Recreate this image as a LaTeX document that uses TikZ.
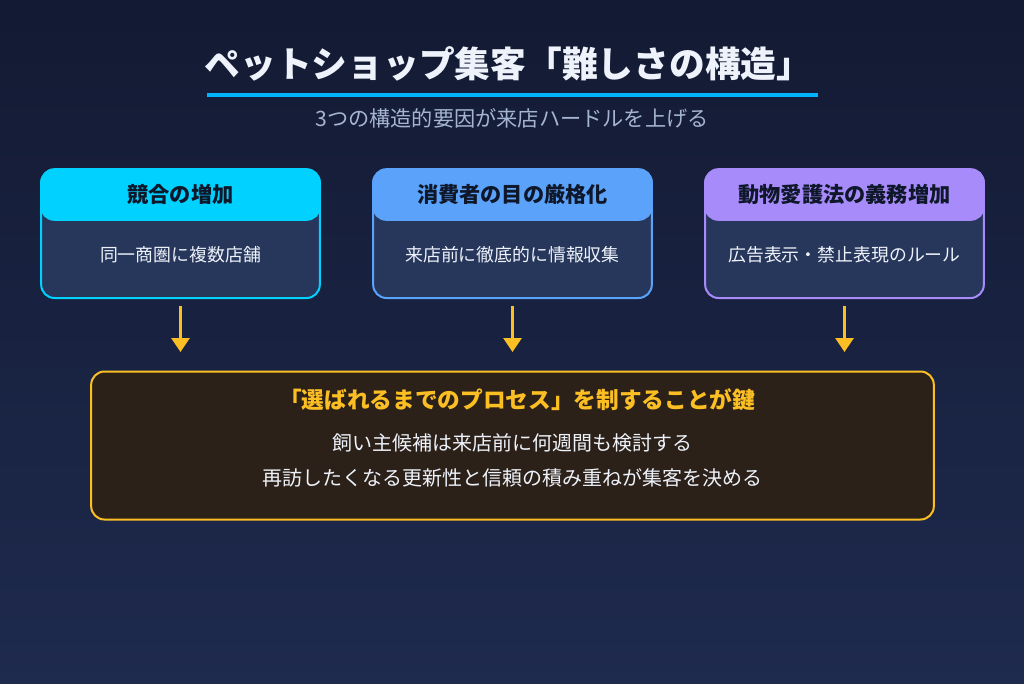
\documentclass[tikz,border=0pt]{standalone}
\usepackage{fontspec}
\setmainfont{Noto Sans CJK JP}
\usetikzlibrary{positioning,arrows.meta}
\definecolor{bgtop}{HTML}{131A33}
\definecolor{bgbot}{HTML}{1E2A4E}
\definecolor{cardbg}{HTML}{27375C}
\definecolor{inkdark}{HTML}{0F172A}
\definecolor{hcyan}{HTML}{00D1FF}
\definecolor{hblue}{HTML}{5BA3FA}
\definecolor{hpurple}{HTML}{A88BFA}
\definecolor{gold}{HTML}{FBBF24}
\definecolor{keybg}{HTML}{2C2119}
\definecolor{subgray}{HTML}{A5B4D0}
\definecolor{softwhite}{HTML}{EEF2FA}

\begin{document}
\begin{tikzpicture}[x=0.75pt, y=-0.75pt,
  card/.style={draw, line width=1.5pt, rounded corners=10pt, fill=cardbg,
               minimum width=209pt, minimum height=96pt, inner sep=0pt},
  head/.style={draw, line width=1.5pt, rounded corners=10pt,
               minimum width=209pt, minimum height=38pt, inner sep=0pt,
               font=\bfseries\fontsize{15.9}{19}\selectfont, text=inkdark},
  body/.style={font=\fontsize{13.4}{16}\selectfont, text=softwhite},
  arr/.style={-{Triangle[width=13.5pt, length=10.5pt]}, line width=2.25pt, draw=gold}
]
\useasboundingbox (0,0) rectangle (1024,683);
\shade[top color=bgtop, bottom color=bgbot] (0,0) rectangle (1024,683);
% ---- title ----
\node[font=\bfseries\fontsize{26.8}{31}\selectfont, text=softwhite] (ttl) at (508.5,64)
  {ペットショップ集客「難しさの構造」};
\draw[draw=hcyan!85!blue, line width=3pt] (207,95) -- (818,95);
\node[font=\fontsize{15.9}{19}\selectfont, text=subgray] (sub) at (512,118)
  {3つの構造的要因が来店ハードルを上げる};
% ---- three factor cards ----
\foreach \i/\x/\col/\hd/\bd in {
  1/180.5/hcyan/競合の増加/同一商圏に複数店舗,
  2/512.5/hblue/消費者の目の厳格化/来店前に徹底的に情報収集,
  3/844.5/hpurple/動物愛護法の義務増加/広告表示・禁止表現のルール}{
  \node[card, draw=\col] (b\i) at (\x,234) {};
  \node[head, draw=\col, fill=\col] (h\i) at (\x,194.5) {\hd};
  \node[body] (t\i) at (\x,255) {\bd};
  \coordinate (e\i) at (\x,352);
  \draw[arr, shorten <=5pt] (b\i.south) -- (e\i);
}
% ---- key message ----
\node[draw=gold, line width=1.5pt, rounded corners=10pt, fill=keybg,
      minimum width=632pt, minimum height=111pt] (key) at (512.5,445.5) {};
\node[font=\bfseries\fontsize{17}{20}\selectfont, text=gold] (k1) at (517,400)
  {「選ばれるまでのプロセス」を制することが鍵};
\node[font=\fontsize{15}{18}\selectfont, text=softwhite] (k2) at (512,443)
  {飼い主候補は来店前に何週間も検討する};
\node[font=\fontsize{15}{18}\selectfont, text=softwhite] (k3) at (512,478)
  {再訪したくなる更新性と信頼の積み重ねが集客を決める};
\end{tikzpicture}
\end{document}
